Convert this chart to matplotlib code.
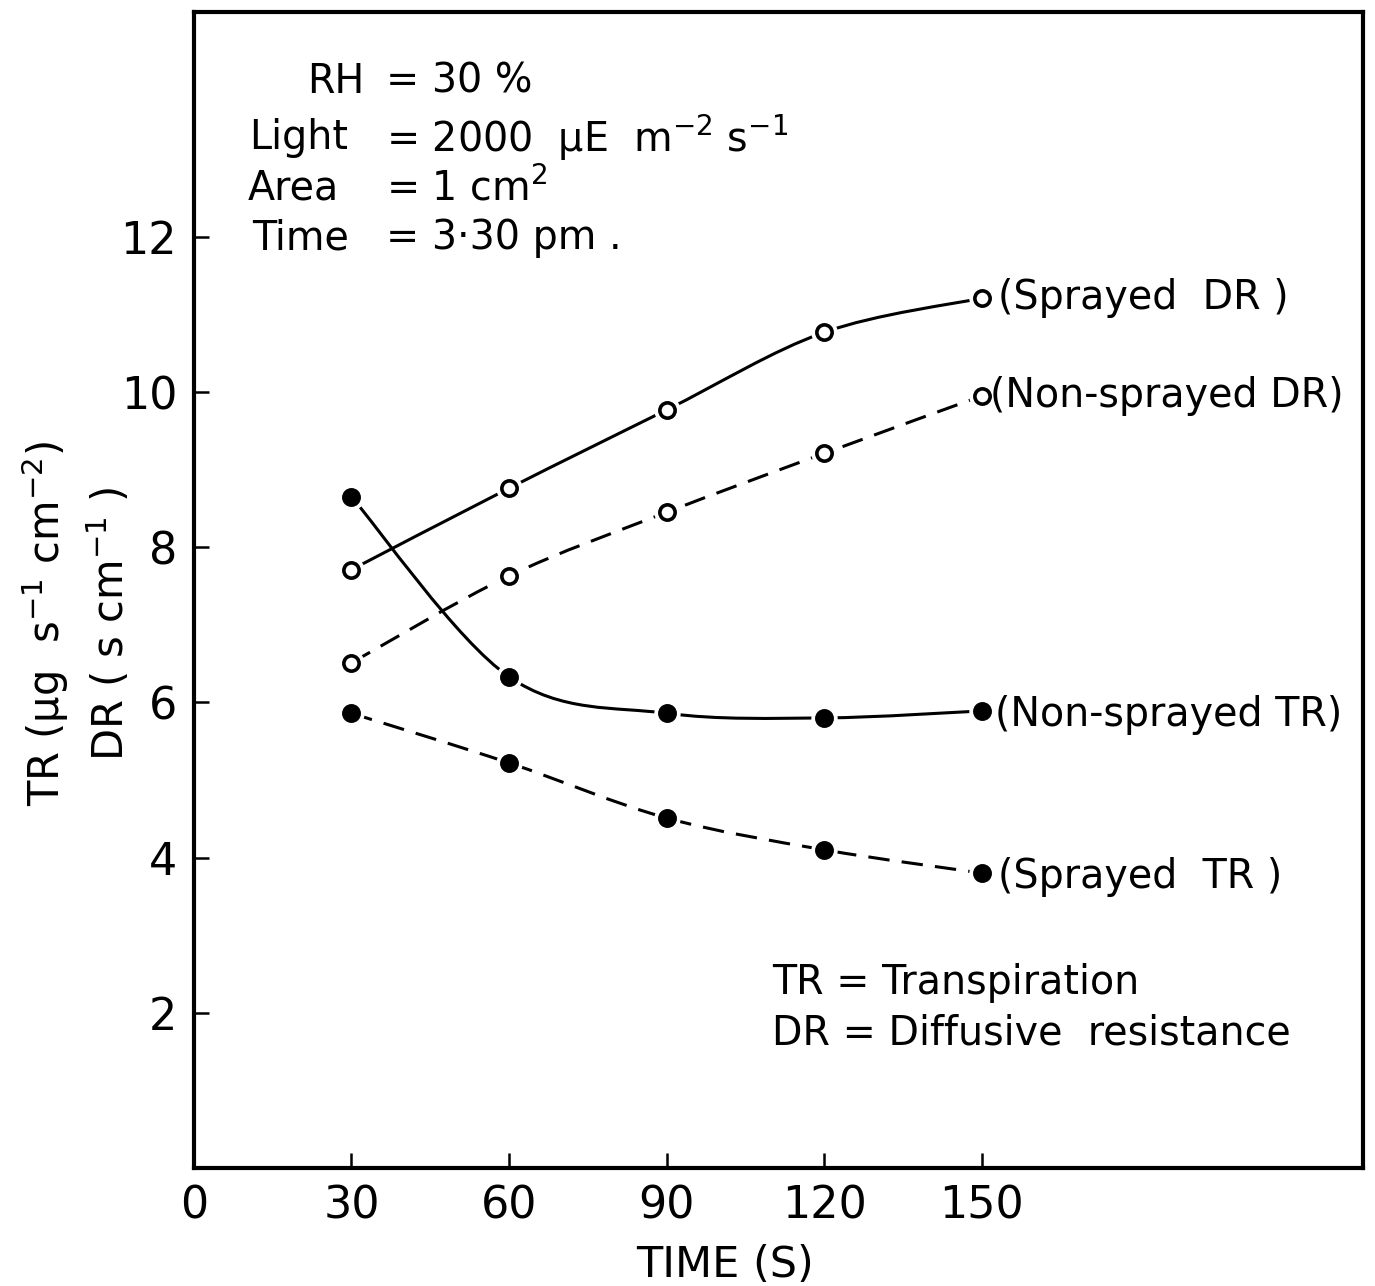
"""Transpiration (TR) and diffusive resistance (DR) versus time,
sprayed and non-sprayed leaves, redrawn in the style of a printed figure."""

import matplotlib
matplotlib.use("Agg")
import matplotlib.pyplot as plt
from matplotlib.path import Path
from matplotlib.patches import PathPatch

# ---------------------------------------------------------------------------
# Data
# ---------------------------------------------------------------------------

TIME = [30, 60, 90, 120, 150]

SPRAYED_DR = [7.71, 8.76, 9.77, 10.77, 11.21]
NONSPRAYED_DR = [6.51, 7.63, 8.45, 9.21, 9.95]
NONSPRAYED_TR = [8.65, 6.33, 5.86, 5.80, 5.89]
SPRAYED_TR = [5.86, 5.22, 4.51, 4.10, 3.80]

X_TICKS = [0, 30, 60, 90, 120, 150]
Y_TICKS = [2, 4, 6, 8, 10, 12]

# ---------------------------------------------------------------------------
# Style
# ---------------------------------------------------------------------------

plt.rcParams["font.family"] = ["DejaVu Sans"]

LW = 2.2
DASH = (0, (7, 4))
TXT = 28.5

fig = plt.figure(figsize=(13.75, 12.86), dpi=100)
fig.patch.set_facecolor("white")
ax = fig.add_axes([0.141, 0.0918, 0.850, 0.899])


def smooth(xs, ys, ls):
    """Draw a smooth curve through the points (Catmull-Rom as Bezier)."""
    pts = list(zip(xs, ys))
    verts = [pts[0]]
    codes = [Path.MOVETO]
    n = len(pts)
    for i in range(n - 1):
        p0 = pts[i - 1] if i > 0 else pts[i]
        p1 = pts[i]
        p2 = pts[i + 1]
        p3 = pts[i + 2] if i + 2 < n else pts[i + 1]
        c1 = (p1[0] + (p2[0] - p0[0]) / 6, p1[1] + (p2[1] - p0[1]) / 6)
        c2 = (p2[0] - (p3[0] - p1[0]) / 6, p2[1] - (p3[1] - p1[1]) / 6)
        verts += [c1, c2, p2]
        codes += [Path.CURVE4] * 3
    ax.add_patch(PathPatch(Path(verts, codes), fill=False, edgecolor="black",
                           linewidth=LW, linestyle=ls, capstyle="butt", zorder=2))


def markers(xs, ys, filled):
    # white halo so lines stop short of the symbols
    ax.plot(xs, ys, "o", ms=18, color="white", mec="white", zorder=3)
    ax.plot(xs, ys, "o", ms=11, mfc="black" if filled else "white",
            mec="black", mew=2.6, zorder=4)


smooth(TIME, SPRAYED_DR, "-")
smooth(TIME, NONSPRAYED_DR, DASH)
smooth(TIME, NONSPRAYED_TR, "-")
smooth(TIME, SPRAYED_TR, DASH)
markers(TIME, SPRAYED_DR, False)
markers(TIME, NONSPRAYED_DR, False)
markers(TIME, NONSPRAYED_TR, True)
markers(TIME, SPRAYED_TR, True)

# series labels
ax.text(153, SPRAYED_DR[-1], "(Sprayed  DR )", fontsize=TXT, va="center")
ax.text(151.5, NONSPRAYED_DR[-1], "(Non-sprayed DR)", fontsize=TXT, va="center")
ax.text(152.5, NONSPRAYED_TR[-1] - 0.05, "(Non-sprayed TR)", fontsize=TXT, va="center")
ax.text(153, SPRAYED_TR[-1] - 0.05, "(Sprayed  TR )", fontsize=TXT, va="center")

# conditions block
cond = [
    (21.5, 14.0, "RH", "= 30 %"),
    (10.5, 13.27, "Light", "= 2000  µE  m$^{-2}$ s$^{-1}$"),
    (10.2, 12.62, "Area", "= 1 cm$^{2}$"),
    (11.0, 11.98, "Time", "= 3·30 pm ."),
]
for xl, yl, name, val in cond:
    ax.text(xl, yl, name, fontsize=TXT, va="center")
    ax.text(36.5, yl, val, fontsize=TXT, va="center")

ax.text(110, 2.38, "TR = Transpiration", fontsize=TXT, va="center")
ax.text(110, 1.73, "DR = Diffusive  resistance", fontsize=TXT, va="center")

# ---------------------------------------------------------------------------
# Axes
# ---------------------------------------------------------------------------

ax.set_xlim(0, 222.5)
ax.set_ylim(0, 14.9)
ax.set_xticks(X_TICKS)
ax.set_xticklabels([str(t) for t in X_TICKS], fontsize=32)
ax.set_yticks(Y_TICKS)
ax.set_yticklabels([str(t) for t in Y_TICKS], fontsize=32)
ax.tick_params(direction="in", length=11, width=1.8, pad=12)
for s in ax.spines.values():
    s.set_linewidth(3.0)

fig.text(0.527, 0.016, "TIME (S)", fontsize=31, ha="center", va="center")
fig.text(0.033, 0.515, "TR (µg  s$^{-1}$ cm$^{-2}$)", fontsize=30,
         rotation=90, ha="center", va="center")
fig.text(0.08, 0.515, "DR ( s cm$^{-1}$ )", fontsize=30,
         rotation=90, ha="center", va="center")

fig.savefig("out.png", dpi=100, facecolor="white")
